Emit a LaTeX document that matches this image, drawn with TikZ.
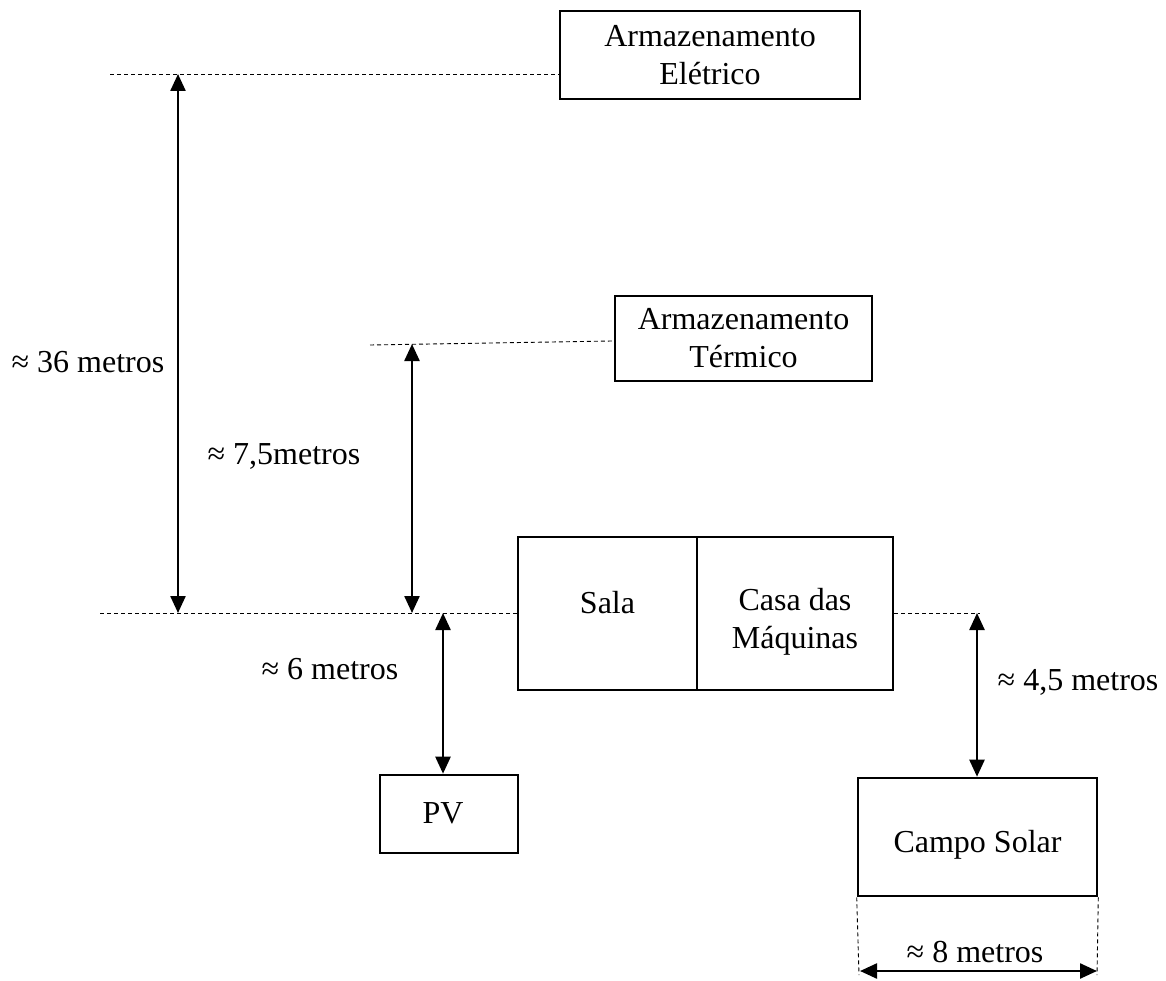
\documentclass[tikz,border=0pt]{standalone}
\usepackage{fontspec}
\setmainfont{Liberation Serif}
\usetikzlibrary{arrows.meta}
\begin{document}
\begin{tikzpicture}[x=1pt,y=-1pt,
  every node/.style={font=\fontsize{32}{38}\selectfont, inner sep=0pt},
  box/.style={draw, line width=2.6pt},
  txt/.style={align=center},
  dimline/.style={line width=0.9pt, dash pattern=on 4pt off 3pt},
  dimarrow/.style={line width=2.4pt, {Triangle[length=17pt,width=15pt]}-{Triangle[length=17pt,width=15pt]}}]
\useasboundingbox (0,0) rectangle (1166,981);

% buildings and storage blocks
\node[box, minimum width=300pt, minimum height=88pt] (ae) at (710,55) {};
\node[txt] (aet) at (ae) {Armazenamento\\Elétrico};
\node[box, minimum width=257pt, minimum height=85pt] (at) at (743.5,338.5) {};
\node[txt] (att) at (at) {Armazenamento\\Térmico};
\node[box, minimum width=179pt, minimum height=153pt] (sala) at (607.5,613.5) {};
\node[txt] (salat) at (607.5,603) {Sala};
\node[box, minimum width=196pt, minimum height=153pt] (casa) at (795,613.5) {};
\node[txt] (casat) at (795,622) {Casa das\\Máquinas};
\node[box, minimum width=138pt, minimum height=78pt] (pv) at (449,814) {};
\node[txt] (pvt) at (443,813) {PV};
\node[box, minimum width=239pt, minimum height=118pt] (cs) at (977.5,837) {};
\node[txt] (cst) at (977.5,845) {Campo Solar};

% reference levels
\coordinate (ref0) at (100,613);
\coordinate (ref36) at (110,74);
\coordinate (ref75a) at (370,345);
\coordinate (ref75b) at (612,341);
\coordinate (refcs) at (980,613);
\draw[dimline] (ref36) -- (ae.west |- ref36);
\draw[dimline] (ref75a) -- (ref75b);
\draw[dimline] (ref0) -- (sala.west |- ref0);
\draw[dimline] (casa.east |- refcs) -- (refcs);

% height dimensions
\coordinate (h36t) at (178,74);
\coordinate (h36b) at (178,613);
\draw[dimarrow] (h36t) -- (h36b);
\coordinate (h75t) at (412,344);
\coordinate (h75b) at (412,613);
\draw[dimarrow] (h75t) -- (h75b);
\coordinate (h6t) at (443,613);
\draw[dimarrow] (h6t) -- (h6t |- pv.north);
\coordinate (h45t) at (977,613);
\draw[dimarrow] (h45t) -- (h45t |- cs.north);

% width of the solar field
\coordinate (wl) at (859,975);
\coordinate (wr) at (1097,975);
\draw[dimline] (cs.south west) -- (wl);
\draw[dimline] (cs.south east) -- (wr);
\coordinate (wla) at (860,971);
\coordinate (wra) at (1097,971);
\draw[dimarrow] (wla) -- (wra);

% dimension labels
\node[txt] (l36) at (88,362) {≈ 36 metros};
\node[txt] (l75) at (284,456) {≈ 7,5metros};
\node[txt] (l6) at (330,669) {≈ 6 metros};
\node[txt] (l45) at (1078,682) {≈ 4,5 metros};
\node[txt] (l8) at (975,952) {≈ 8 metros};
\end{tikzpicture}
\end{document}
